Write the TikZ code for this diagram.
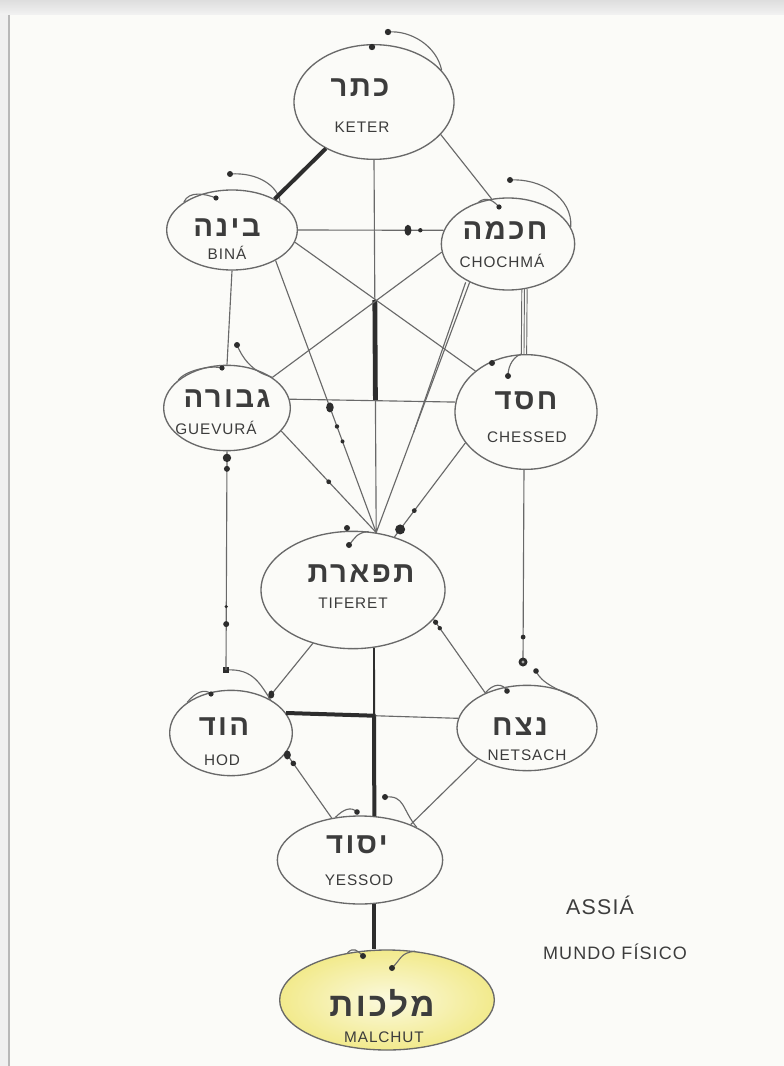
\documentclass[tikz,border=0pt]{standalone}
\usepackage{fontspec}
\usetikzlibrary{shapes.geometric,calc}
\TeXXeTstate=1
\newfontfamily\hebf[Script=Hebrew,LetterSpace=8]{Liberation Sans}
\newfontfamily\labf[LetterSpace=6]{Liberation Sans}
\definecolor{paper}{RGB}{251,251,248}
\definecolor{pen}{RGB}{105,105,105}
\definecolor{ink}{RGB}{60,60,60}
\definecolor{dark}{RGB}{45,45,45}
\definecolor{mal}{RGB}{242,234,140}
\definecolor{malin}{RGB}{251,249,222}
\tikzset{
  sef/.style={ellipse, draw=pen, line width=1pt, inner sep=0pt, fill=paper},
  wire/.style={draw=pen, line width=0.85pt},
  heavy/.style={draw=dark, line width=3pt},
  heb/.style={font={\hebf\bfseries\fontsize{22}{26}\selectfont}, text=ink, inner sep=0pt},
  lab/.style={font={\labf\fontsize{11.5}{13}\selectfont}, text=ink, inner sep=0pt},
  side/.style={font={\labf\fontsize{16}{18}\selectfont}, text=ink, inner sep=0pt},
  blob/.style={fill=dark},
}
\begin{document}
\begin{tikzpicture}[x=0.75pt,y=-0.75pt]
\useasboundingbox (0,0) rectangle (784,1066);
% paper
\fill[black!6] (0,0) rectangle (784,1066);
\shade[top color=black!13, bottom color=black!5] (0,0) rectangle (784,15);
\fill[paper] (9,15) rectangle (784,1066);
\draw[black!28, line width=0.8pt] (9,15) -- (9,1066);

% sephiroth
\node[sef, minimum width=120pt, minimum height=86pt] (k) at (374,102) {};
\node[sef, minimum width=98pt, minimum height=60pt] (b) at (232,230) {};
\node[sef, minimum width=100pt, minimum height=69pt] (c) at (508,244) {};
\node[sef, minimum width=95pt, minimum height=64pt] (g) at (227,408) {};
\node[sef, minimum width=106.5pt, minimum height=86pt] (ch) at (526,412) {};
\node[sef, minimum width=138pt, minimum height=88pt] (t) at (353,590) {};
\node[sef, minimum width=92pt, minimum height=64pt] (h) at (231,733) {};
\node[sef, minimum width=105pt, minimum height=64pt] (n) at (527,728) {};
\node[sef, minimum width=124pt, minimum height=66pt] (y) at (360,860) {};
\node[ellipse, draw=pen, line width=1pt, inner sep=0pt, minimum width=161pt, minimum height=75pt,
      inner color=malin, outer color=mal] (m) at (387,1000) {};

% tails
\coordinate (kd1) at (388,32);
\coordinate (kd2) at (372,47);
\draw[wire] (k.25) .. controls +(-5,-25) and +(22,-2) .. (kd1);
\fill[blob] (kd1) circle (3.2); \fill[blob] (kd2) circle (3.2);

\coordinate (bd1) at (230,174);
\coordinate (bd2) at (216,198);
\draw[wire] (b.30) .. controls +(-2,-16) and +(28,-2) .. (bd1);
\draw[wire] (b.150) .. controls +(5,-12) and +(-10,-4) .. (bd2);
\fill[blob] (bd1) circle (3); \fill[blob] (bd2) circle (2.6);

\coordinate (cd1) at (510,180);
\coordinate (cd2) at (499,207);
\draw[wire] (c.15) .. controls +(2,-30) and +(30,-2) .. (cd1);
\draw[wire] (c.125) .. controls +(8,-6) and +(-5,-6) .. (cd2);
\fill[blob] (cd1) circle (3); \fill[blob] (cd2) circle (2.6);

\coordinate (gd1) at (237,345);
\coordinate (gd2) at (222,368);
\draw[wire] (g.35) .. controls +(-20,-5) and +(5,12) .. (gd1);
\draw[wire] (g.150) .. controls +(8,-10) and +(-10,-3) .. (gd2);
\fill[blob] (gd1) circle (3); \fill[blob] (gd2) circle (2.6);

\coordinate (chd1) at (492,363);
\coordinate (chd2) at (508,376);
\draw[wire] (chd2) .. controls +(0,-12) and +(-6,2) .. (ch.95);
\fill[blob] (chd1) circle (3); \fill[blob] (chd2) circle (3);

\coordinate (td1) at (347,528);
\coordinate (td2) at (349,545);
\draw[wire] (td2) .. controls +(6,-7) and +(-12,1) .. (t.75);
\fill[blob] (td1) circle (3); \fill[blob] (td2) circle (3);

\coordinate (hd1) at (226,670);
\coordinate (hd2) at (211,694);
\draw[wire] (hd1) .. controls +(28,-2) and +(-10,-14) .. (h.40);
\draw[wire] (h.145) .. controls +(8,-10) and +(-6,-6) .. (hd2);
\fill[blob] ($(hd1)+(-3,-3)$) rectangle ($(hd1)+(3,3)$); \fill[blob] (hd2) circle (2.6);

\coordinate (nd1) at (536,671);
\coordinate (nd2) at (507,691);
\draw[wire] (nd1) .. controls +(5,12) and +(-20,-8) .. (n.30);
\draw[wire] (n.140) .. controls +(8,-10) and +(-4,-8) .. (nd2);
\fill[blob] (nd1) circle (2.8); \fill[blob] (nd2) circle (2.8);

\coordinate (yd1) at (385,797);
\coordinate (yd2) at (357,812);
\draw[wire] (yd1) .. controls +(20,-2) and +(-15,-18) .. (y.30);
\draw[wire] (y.120) .. controls +(8,-8) and +(-6,-6) .. (yd2);
\fill[blob] (yd1) circle (3); \fill[blob] (yd2) circle (2.8);

\coordinate (md1) at (363,956);
\coordinate (md2) at (392,968);
\draw[wire] (m.130) .. controls +(6,-6) and +(-6,-6) .. (md1);
\draw[wire] (md2) .. controls +(10,-10) and +(-15,2) .. (m.60);
\fill[blob] (md1) circle (3); \fill[blob] (md2) circle (3);

% connectors
\draw[heavy] (k.224) -- (b.36);
\draw[wire] (k.-26) -- (c.110);
\draw[wire] (k.south) -- (t.68) coordinate[pos=0.376] (kt1) coordinate[pos=0.645] (kt2);
\draw[heavy, line width=3.6pt] (kt1) -- (kt2);

\draw[wire] (b.0) -- (c.168) coordinate[pos=0.755] (bc1) coordinate[pos=0.84] (bc2);
\fill[blob] (bc1) ellipse (3.5 and 5.5); \fill[blob] (bc2) circle (2.2);

\draw[wire] (b.south) -- (g.north);
\foreach \s in {-2pt,0pt,2pt} \draw[wire, line width=0.7pt] ([xshift=\s]c.-70) -- ([xshift=\s]ch.92);
\draw[wire] (b.-11) -- (ch.141);
\draw[wire] (c.187) -- (g.34);

\draw[wire] (b.-35) -- (t.68) coordinate[pos=0.54] (bt1) coordinate[pos=0.61] (bt2) coordinate[pos=0.665] (bt3);
\fill[blob] (bt1) ellipse (3.8 and 5); \fill[blob] (bt2) circle (2.2); \fill[blob] (bt3) circle (2);

\draw[wire] (c.225) -- (t.68);
\draw[wire] ([xshift=-3pt]c.225) -- ($(c.225)!0.6!(t.68)$);

\draw[wire] (g.8) -- (ch.172);
\draw[wire] (g.-23) -- (t.68) coordinate[pos=0.5] (gt1);
\fill[blob] (gt1) circle (2.4);

\draw[wire] (ch.207) -- (t.52) coordinate[pos=0.72] (cht1) coordinate[pos=0.92] (cht2);
\fill[blob] (cht1) circle (2.4); \fill[blob] (cht2) circle (5);

\draw[wire] (g.south) -- (hd1) coordinate[pos=0.03] (gh1) coordinate[pos=0.08] (gh2) coordinate[pos=0.71] (gh3) coordinate[pos=0.79] (gh4);
\fill[blob] (gh1) circle (4.2); \fill[blob] (gh2) circle (3); \fill[blob] (gh3) circle (1.8); \fill[blob] (gh4) circle (3);

\coordinate (nv) at (523,662);
\draw[wire] (ch.-92) -- (nv) coordinate[pos=0.87] (cn1);
\fill[blob] (cn1) circle (2.4);
\fill[blob] (nv) circle (4.5); \fill[pen!60] (nv) circle (1.6);

\draw[wire] (t.233) -- (h.43) coordinate[pos=0.93] (th1);
\fill[blob] (th1) ellipse (3 and 4);
\draw[wire] (t.-20) -- (n.140) coordinate[pos=0.04] (tn1) coordinate[pos=0.12] (tn2);
\fill[blob] (tn1) circle (2.6); \fill[blob] (tn2) circle (2.2);

\draw[draw=dark, line width=1.4pt] (t.-70) -- (y.72) coordinate[pos=0.4] (ty1);
\draw[heavy] (ty1) -- (y.72);
\draw[wire] (h.20) -- (n.172) coordinate[pos=0.52] (hn1);
\draw[heavy] (h.20) -- (hn1);

\draw[wire] (h.-20) -- (y.124) coordinate[pos=0.03] (hy1) coordinate[pos=0.16] (hy2);
\fill[blob] (hy1) ellipse (3.5 and 4.5); \fill[blob] (hy2) circle (2.8);
\draw[wire] (n.212) -- (y.35);
\draw[heavy] (y.-72) -- (y.-72 |- m.north);

% texts
\node[heb] (kh) at (360,88) {\beginR כתר\endR};
\node[lab] (kl) at (362,127) {KETER};
\node[heb] (bh) at (227,228) {\beginR בינה\endR};
\node[lab] (bl) at (227,253) {BINÁ};
\node[heb] (chh) at (505,231) {\beginR חכמה\endR};
\node[lab] (cl) at (502,261) {CHOCHMÁ};
\node[heb] (gh) at (227,399) {\beginR גבורה\endR};
\node[lab] (gl) at (216,428) {GUEVURÁ};
\node[heb] (chsh) at (526,401) {\beginR חסד\endR};
\node[lab] (chsl) at (527,437) {CHESSED};
\node[heb] (th) at (361,574) {\beginR תפארת\endR};
\node[lab] (tl) at (353,603) {TIFERET};
\node[heb] (hh) at (224,727) {\beginR הוד\endR};
\node[lab] (hl) at (222,760) {HOD};
\node[heb] (nh) at (520,727) {\beginR נצח\endR};
\node[lab] (nl) at (527,755) {NETSACH};
\node[heb] (yh) at (357,845) {\beginR יסוד\endR};
\node[lab] (yl) at (359,880) {YESSOD};
\node[heb, font={\hebf\bfseries\fontsize{25}{28}\selectfont}] (mh) at (382,1003) {\beginR מלכות\endR};
\node[lab] (ml) at (384,1037) {MALCHUT};

\node[side] (as) at (600,905) {ASSIÁ};
\node[side, font={\labf\fontsize{13.5}{16}\selectfont}] (mf) at (615,952) {MUNDO FÍSICO};
\end{tikzpicture}
\end{document}
